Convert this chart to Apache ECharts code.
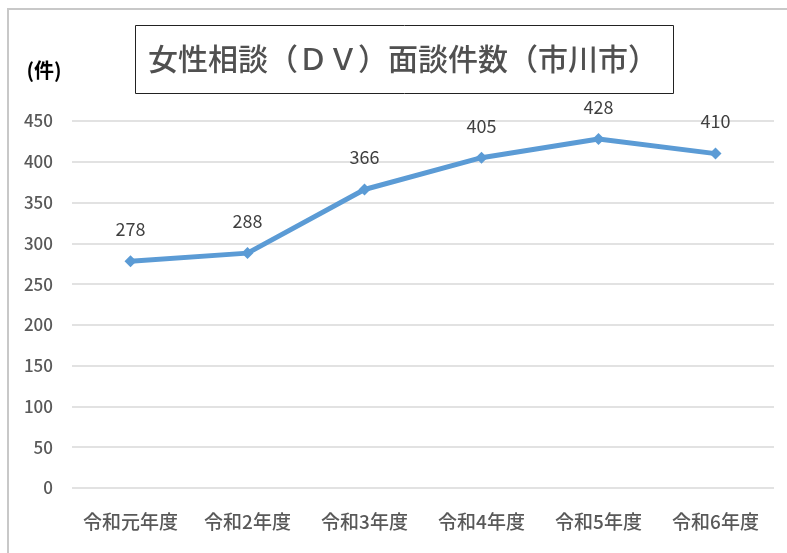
<!DOCTYPE html>
<html><head><meta charset="utf-8">
<script src="https://cdn.jsdelivr.net/npm/echarts@6/dist/echarts.min.js"></script>
<style>html,body{margin:0;padding:0;background:#fff}#c{width:787px;height:553px}</style>
</head><body><div id="c"></div>
<script>
const categories = ['令和元年度','令和2年度','令和3年度','令和4年度','令和5年度','令和6年度'];
const values = [278, 288, 366, 405, 428, 410];
const titleText = '女性相談（ＤＶ）面談件数（市川市）';
const unitText = '(件)';
const font = '"Noto Sans CJK JP", "Noto Sans", sans-serif';
const chart = echarts.init(document.getElementById('c'));
chart.setOption({
  animation: false,
  backgroundColor: '#fff',
  graphic: [
    {type:'rect', shape:{x:8,y:9,width:820,height:600}, style:{fill:'none', stroke:'#c8c8c8', lineWidth:2}, z:-1},
    {type:'rect', shape:{x:135.5,y:25.5,width:538,height:68}, style:{fill:'#fff', stroke:'#222', lineWidth:1}},
    {type:'text', x:403, y:59, style:{text:titleText, font:'500 30px '+font, fill:'#505050', textAlign:'center', textVerticalAlign:'middle'}},
    {type:'text', x:44, y:70, style:{text:unitText, font:'bold 20px '+font, fill:'#000', textAlign:'center', textVerticalAlign:'middle'}}
  ],
  grid: {left:72, right:13, top:121, bottom:65},
  xAxis: {
    type:'category', data:categories, boundaryGap:true,
    axisLine:{show:false}, axisTick:{show:false},
    axisLabel:{interval:0, color:'#595959', fontSize:19, fontWeight:500, fontFamily:font, margin:24}
  },
  yAxis: {
    type:'value', min:0, max:450, interval:50,
    axisLine:{show:false}, axisTick:{show:false},
    axisLabel:{color:'#595959', fontSize:17, fontWeight:500, fontFamily:font, margin:19},
    splitLine:{lineStyle:{color:'#d9d9d9', width:1.5}}
  },
  series: [{
    type:'line', data:values,
    lineStyle:{color:'#5B9BD5', width:5},
    itemStyle:{color:'#5B9BD5'},
    symbol:'diamond', symbolSize:12,
    label:{show:true, position:'top', distance:17, color:'#404040', fontSize:18, fontFamily:font}
  }]
});
</script></body></html>
